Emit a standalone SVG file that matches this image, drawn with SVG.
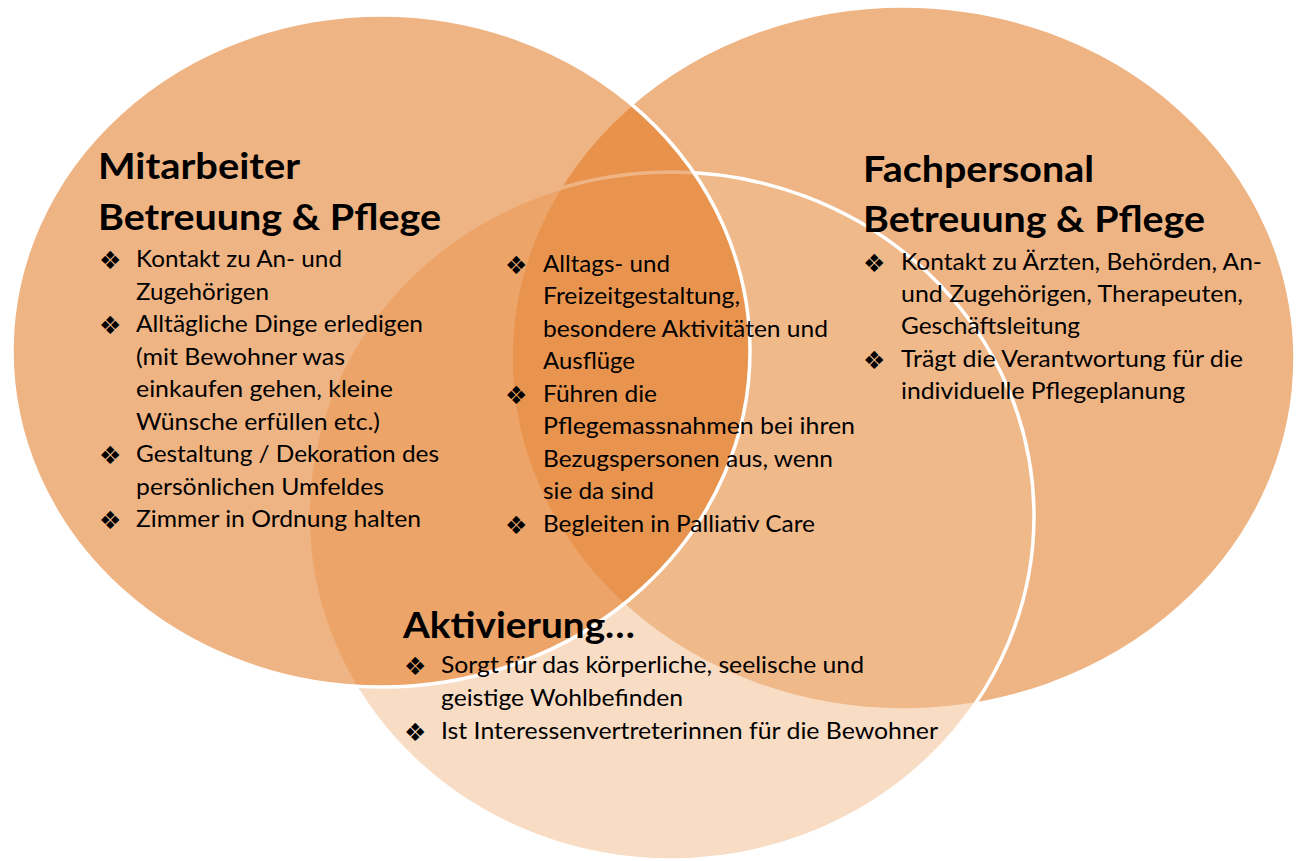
<svg xmlns="http://www.w3.org/2000/svg" width="1299" height="861" viewBox="0 0 1299 861">
  <style>
    .ring { stroke: #ffffff; stroke-width: 3.5; }
    .warm { fill: #E2761F; fill-opacity: 0.55; }
    .soft { fill: #F2BC8F; fill-opacity: 0.53; }
    .head { font-family: Lato, "Open Sans", sans-serif; font-weight: 700; font-size: 37px; fill: #000; }
    .body { font-family: Lato, "Open Sans", sans-serif; font-size: 22.5px; fill: #000; }
    .bul  { font-family: "DejaVu Sans", sans-serif; font-size: 25px; fill: #000; }
  </style>
  <rect width="1299" height="861" fill="#ffffff"/>

  <!-- circles: right first, bottom next, left on top -->
  <g id="node-fachpersonal">
    <ellipse class="ring warm" cx="903" cy="358" rx="392" ry="352"/>
  </g>
  <g id="node-aktivierung">
    <ellipse class="ring soft" cx="671" cy="516" rx="363" ry="344"/>
  </g>
  <g id="node-mitarbeiter">
    <ellipse class="ring warm" cx="381" cy="351" rx="369" ry="336"/>
  </g>

  <!-- texts of the left circle -->
  <g id="label-mitarbeiter">
    <text class="head" x="98" y="179" textLength="202" lengthAdjust="spacingAndGlyphs">Mitarbeiter</text>
    <text class="head" x="98" y="230" textLength="343" lengthAdjust="spacingAndGlyphs">Betreuung &amp; Pflege</text>
    <text class="bul" x="99" y="269">❖</text>
    <text class="bul" x="99" y="334">❖</text>
    <text class="bul" x="99" y="464">❖</text>
    <text class="bul" x="99" y="529">❖</text>
    <text class="body" x="136" y="267" textLength="206" lengthAdjust="spacingAndGlyphs">Kontakt zu An- und</text>
    <text class="body" x="136" y="300" textLength="133" lengthAdjust="spacingAndGlyphs">Zugehörigen</text>
    <text class="body" x="136" y="332" textLength="287" lengthAdjust="spacingAndGlyphs">Alltägliche Dinge erledigen</text>
    <text class="body" x="136" y="365" textLength="209" lengthAdjust="spacingAndGlyphs">(mit Bewohner was</text>
    <text class="body" x="136" y="397" textLength="257" lengthAdjust="spacingAndGlyphs">einkaufen gehen, kleine</text>
    <text class="body" x="136" y="430" textLength="244" lengthAdjust="spacingAndGlyphs">Wünsche erfüllen etc.)</text>
    <text class="body" x="136" y="462" textLength="303" lengthAdjust="spacingAndGlyphs">Gestaltung / Dekoration des</text>
    <text class="body" x="136" y="495" textLength="248" lengthAdjust="spacingAndGlyphs">persönlichen Umfeldes</text>
    <text class="body" x="136" y="527" textLength="285" lengthAdjust="spacingAndGlyphs">Zimmer in Ordnung halten</text>
  </g>

  <!-- texts of the shared centre -->
  <g id="label-gemeinsam">
    <text class="bul" x="505" y="274">❖</text>
    <text class="bul" x="505" y="404">❖</text>
    <text class="bul" x="505" y="534">❖</text>
    <text class="body" x="543" y="272" textLength="127" lengthAdjust="spacingAndGlyphs">Alltags- und</text>
    <text class="body" x="543" y="304" textLength="197" lengthAdjust="spacingAndGlyphs">Freizeitgestaltung,</text>
    <text class="body" x="543" y="337" textLength="285" lengthAdjust="spacingAndGlyphs">besondere Aktivitäten und</text>
    <text class="body" x="543" y="369" textLength="92" lengthAdjust="spacingAndGlyphs">Ausflüge</text>
    <text class="body" x="543" y="402" textLength="114" lengthAdjust="spacingAndGlyphs">Führen die</text>
    <text class="body" x="543" y="434" textLength="312" lengthAdjust="spacingAndGlyphs">Pflegemassnahmen bei ihren</text>
    <text class="body" x="543" y="467" textLength="290" lengthAdjust="spacingAndGlyphs">Bezugspersonen aus, wenn</text>
    <text class="body" x="543" y="499" textLength="111" lengthAdjust="spacingAndGlyphs">sie da sind</text>
    <text class="body" x="543" y="532" textLength="272" lengthAdjust="spacingAndGlyphs">Begleiten in Palliativ Care</text>
  </g>

  <!-- texts of the right circle -->
  <g id="label-fachpersonal">
    <text class="head" x="863" y="182" textLength="231" lengthAdjust="spacingAndGlyphs">Fachpersonal</text>
    <text class="head" x="863" y="232" textLength="342" lengthAdjust="spacingAndGlyphs">Betreuung &amp; Pflege</text>
    <text class="bul" x="863" y="272">❖</text>
    <text class="bul" x="863" y="369">❖</text>
    <text class="body" x="901" y="270" textLength="361" lengthAdjust="spacingAndGlyphs">Kontakt zu Ärzten, Behörden, An-</text>
    <text class="body" x="901" y="302" textLength="342" lengthAdjust="spacingAndGlyphs">und Zugehörigen, Therapeuten,</text>
    <text class="body" x="901" y="334" textLength="179" lengthAdjust="spacingAndGlyphs">Geschäftsleitung</text>
    <text class="body" x="901" y="367" textLength="342" lengthAdjust="spacingAndGlyphs">Trägt die Verantwortung für die</text>
    <text class="body" x="901" y="399" textLength="284" lengthAdjust="spacingAndGlyphs">individuelle Pflegeplanung</text>
  </g>

  <!-- texts of the bottom circle -->
  <g id="label-aktivierung">
    <text class="head" x="403" y="638" textLength="232" lengthAdjust="spacingAndGlyphs">Aktivierung…</text>
    <text class="bul" x="404" y="675">❖</text>
    <text class="bul" x="404" y="741">❖</text>
    <text class="body" x="441" y="673" textLength="423" lengthAdjust="spacingAndGlyphs">Sorgt für das körperliche, seelische und</text>
    <text class="body" x="441" y="706" textLength="242" lengthAdjust="spacingAndGlyphs">geistige Wohlbefinden</text>
    <text class="body" x="441" y="739" textLength="497" lengthAdjust="spacingAndGlyphs">Ist Interessenvertreterinnen für die Bewohner</text>
  </g>
</svg>
